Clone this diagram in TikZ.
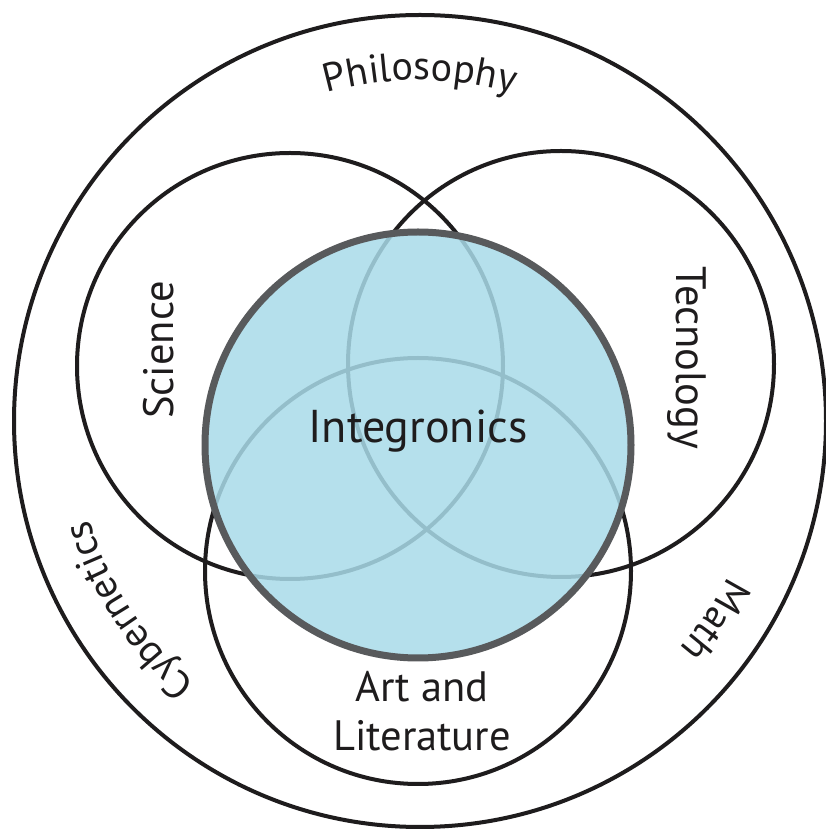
\documentclass[tikz,border=0pt]{standalone}
\usepackage{fontspec}
\setmainfont{PT Sans}
\usetikzlibrary{decorations.text}
\definecolor{fillblue}{RGB}{169,219,233}
\definecolor{rimgray}{RGB}{88,90,92}
\definecolor{inkblack}{RGB}{30,28,29}
\newcommand{\lblsize}{\fontsize{42.5}{50}\selectfont}
\newcommand{\arcsize}{\fontsize{40}{48}\selectfont}

\begin{document}
\begin{tikzpicture}[x=1pt,y=1pt,
    ring/.style={draw=inkblack, line width=4pt},
    lbl/.style={text=inkblack, font=\lblsize, inner sep=0pt, anchor=base},
    arclbl/.style={decorate, decoration={text along path, text align=center,
        text color=inkblack, text={|\arcsize|#1}}}]
  \useasboundingbox (0,0) rectangle (826,833);
  \fill[white] (0,0) rectangle (826,833);

  % the rings
  \draw[ring] (420,412) circle[radius=406];
  \draw[ring] (290,467) circle[radius=213];
  \draw[ring] (561,469) circle[radius=213];
  \draw[ring] (418,262) circle[radius=213];

  % the middle one
  \fill[fillblue, fill opacity=0.85] (418,388) circle[radius=213];
  \draw[rimgray, line width=7pt] (418,388) circle[radius=213];

  \node[lbl, font=\fontsize{46}{55}\selectfont] (integ) at (418,390) {Integronics};
  \node[lbl, rotate=90] (sci) at (173,483) {Science};
  \node[lbl, rotate=-90] (tec) at (676,475) {Tecnology};
  \node[lbl] (art) at (422,131) {Art and};
  \node[lbl] (lit) at (422,82) {Literature};

  % along the outer ring
  \path[arclbl=Philosophy] (420,412) ++(130:341) arc[start angle=130, end angle=50, radius=341];
  \path[arclbl=Cybernetics] (420,412) ++(253:345) arc[start angle=253, end angle=173, radius=345];
  \path[arclbl=Math] (420,412) ++(6:345) arc[start angle=6, end angle=-74, radius=345];
\end{tikzpicture}
\end{document}
